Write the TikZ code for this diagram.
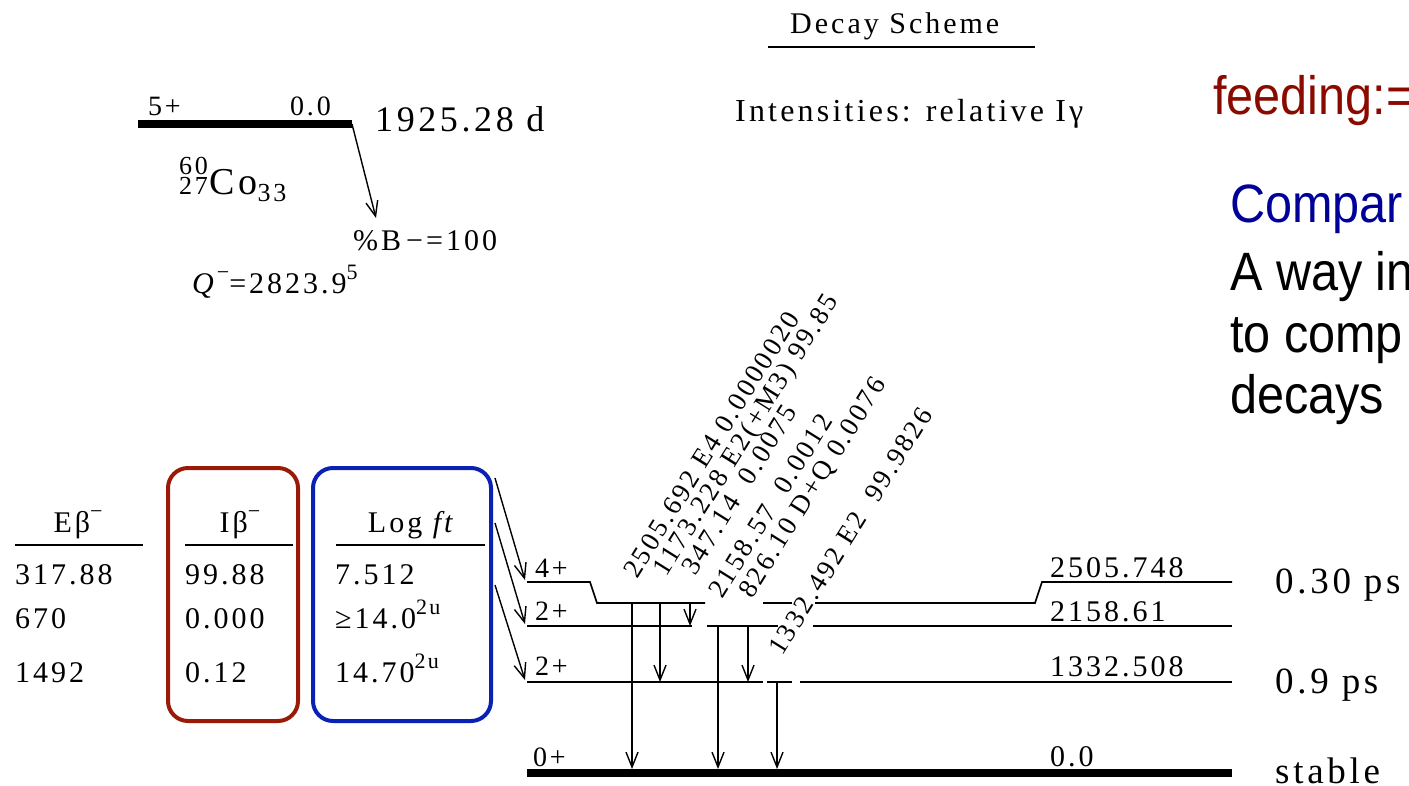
\documentclass[tikz,border=0pt]{standalone}
\usepackage{fontspec}
\usepackage{xcolor}
\usepackage{tikz}
\setmainfont{Liberation Serif}
\newfontfamily\schemefont{Liberation Serif}[LetterSpace=10]
\newfontfamily\slidefont{Liberation Sans}
\definecolor{feedRed}{HTML}{8B0A00}
\definecolor{boxRed}{HTML}{9A1A08}
\definecolor{boxBlue}{HTML}{0A22B4}
\definecolor{cmpBlue}{HTML}{000099}
\usetikzlibrary{arrows.meta,positioning}
\newcommand{\supr}[1]{\raisebox{0.45em}{\fontsize{22}{22}\selectfont #1}}

\begin{document}
\begin{tikzpicture}[
  x=1pt, y=-1pt,
  txt/.style={inner sep=0pt, anchor=base west, font=\schemefont\fontsize{30}{34}\selectfont},
  spin/.style={txt, font=\schemefont\fontsize{28}{30}\selectfont},
  hlife/.style={txt, font=\schemefont\fontsize{37}{40}\selectfont},
  glab/.style={inner sep=0pt, rotate=58, anchor=base west, font=\schemefont\fontsize{27}{29}\selectfont},
  script/.style={inner sep=0pt, font=\schemefont\fontsize{26}{27}\selectfont},
  lvl/.style={line width=1.7pt},
  gslvl/.style={line width=8pt},
  gam/.style={line width=1.4pt, -{Straight Barb[length=15pt,width=12pt,line width=1.4pt]}},
  colbox/.style={line width=4pt, rounded corners=20pt},
  rule/.style={line width=2.2pt},
  slide/.style={inner sep=0pt, anchor=base west, xscale=0.9, font=\slidefont\fontsize{54}{60}\selectfont}
]
\useasboundingbox (0,0) rectangle (1409,785);
\clip (0,0) rectangle (1409,785);

% Title
\node[txt] (title) at (790,33) {Decay Scheme};
\draw[rule] (768,47) -- (1035,47);
\node[txt, font=\schemefont\fontsize{32}{34}\selectfont] (intens) at (735,121) {Intensities: relative Iγ};

% Parent level
\draw[gslvl] (138,124) -- (352,124);
\node[spin] (pSpin) at (148,115) {5+};
\node[spin] (pEn) at (290,115) {0.0};
\node[txt, font=\schemefont\fontsize{36}{38}\selectfont] (pLife) at (375,131) {1925.28 d};
\node[txt, font=\schemefont\fontsize{38}{40}\selectfont] (co) at (209,194) {Co};
\node[script, anchor=base east] (coA) at ([xshift=-1pt, yshift=20pt]co.base west) {60};
\node[script, anchor=base east] (coZ) at ([xshift=-1pt]co.base west) {27};
\node[script, anchor=base west] (coN) at ([yshift=-7pt]co.base east) {33};
\coordinate (pStart) at (352,124);
\coordinate (pEnd) at (376,218);
\draw[gam] (pStart) -- (pEnd);
\node[txt] (branch) at (353,250) {\%B\,−=100};
\node[txt] (qval) at (192,293) {\textit{Q}\supr{−}=2823.9\supr{5}};

% Feeding table
\node[txt, anchor=base] (hE) at (78,532) {Eβ\supr{−}};
\node[txt, anchor=base] (hI) at (240,532) {Iβ\supr{−}};
\node[txt, anchor=base] (hL) at (412,532) {Log \textit{ft}};
\draw[rule] (15,545) -- (143,545);
\draw[rule] (185,545) -- (293,545);
\draw[rule] (336,545) -- (485,545);
\node[txt] (e1) at (15,584) {317.88};
\node[txt] (e2) at (15,628) {670};
\node[txt] (e3) at (15,682) {1492};
\node[txt] (i1) at (185,584) {99.88};
\node[txt] (i2) at (185,628) {0.000};
\node[txt] (i3) at (185,682) {0.12};
\node[txt] (f1) at (335,584) {7.512};
\node[txt] (f2) at (335,628) {≥14.0\supr{2u}};
\node[txt] (f3) at (335,682) {14.70\supr{2u}};
\draw[colbox, boxRed] (168,468) rectangle (298,721);
\draw[colbox, boxBlue] (313,468) rectangle (491,721);

% Beta feeding arrows
\coordinate (b1s) at (495,478);  \coordinate (b1e) at (525,580);
\coordinate (b2s) at (495,523);  \coordinate (b2e) at (525,624);
\coordinate (b3s) at (495,585);  \coordinate (b3e) at (525,680);
\draw[gam] (b1s) -- (b1e);
\draw[gam] (b2s) -- (b2e);
\draw[gam] (b3s) -- (b3e);

% Levels of the daughter
\coordinate (lvA) at (0,603);
\coordinate (lvB) at (0,626);
\coordinate (lvC) at (0,682);
\coordinate (lvG) at (0,769);
\draw[lvl] (527,582) -- (590,582) -- (597,603) -- (705,603);
\draw[lvl] (763,603) -- (792,603);
\draw[lvl] (815,603) -- (1035,603) -- (1042,582) -- (1232,582);
\draw[lvl] (527,626) -- (692,626);
\draw[lvl] (707,626) -- (778,626);
\draw[lvl] (813,626) -- (1232,626);
\draw[lvl] (527,682) -- (763,682);
\draw[lvl] (767,682) -- (792,682);
\draw[lvl] (800,682) -- (1232,682);
\draw[gslvl] (527,773) -- (1232,773);
\node[spin] (s4) at (535,577) {4+};
\node[spin] (s2a) at (535,620) {2+};
\node[spin] (s2b) at (535,675) {2+};
\node[spin] (s0) at (533,766) {0+};
\node[txt] (en1) at (1050,577) {2505.748};
\node[txt] (en2) at (1050,621) {2158.61};
\node[txt] (en3) at (1050,676) {1332.508};
\node[txt] (en0) at (1050,766) {0.0};
\node[hlife] (t1) at (1275,593) {0.30 ps};
\node[hlife] (t2) at (1275,693) {0.9 ps};
\node[hlife] (t0) at (1275,783) {stable};

% Gamma transitions
\coordinate (g2505) at (632,603);
\coordinate (g1173) at (660,603);
\coordinate (g347) at (690,603);
\coordinate (g2158) at (718,626);
\coordinate (g826) at (748,626);
\coordinate (g1332) at (777,682);
\draw[gam] (g2505) -- (g2505 |- lvG);
\draw[gam] (g1173) -- (g1173 |- lvC);
\draw[gam] (g347) -- (g347 |- lvB);
\draw[gam] (g2158) -- (g2158 |- lvG);
\draw[gam] (g826) -- (g826 |- lvC);
\draw[gam] (g1332) -- (g1332 |- lvG);
\node[glab] (l2505) at (637,580) {2505.692 E4 0.0000020};
\node[glab] (l1173) at (666,578) {1173.228 E2(+M3) 99.85};
\node[glab] (l347) at (695,577) {347.14~ 0.0075};
\node[glab] (l2158) at (722,600) {2158.57~ 0.0012};
\node[glab] (l826) at (752,600) {826.10 D+Q 0.0076};
\node[glab] (l1332) at (782,657) {1332.492 E2~ 99.9826};

% Slide text
\node[slide, text=feedRed] (feed) at (1213,114) {feeding:=};
\node[slide, text=cmpBlue] (cmp) at (1230,222) {Compar};
\node[slide] (way1) at (1230,290) {A way in};
\node[slide] (way2) at (1230,352) {to comp};
\node[slide] (way3) at (1230,413) {decays};
\end{tikzpicture}
\end{document}
